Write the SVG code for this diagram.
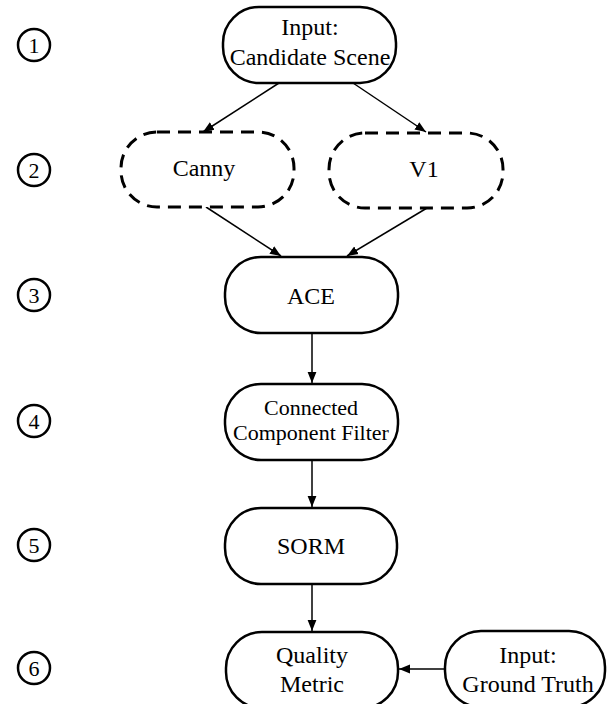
<svg xmlns="http://www.w3.org/2000/svg" width="608" height="704" viewBox="0 0 608 704">
<defs>
<marker id="ah" viewBox="0 0 10 10" refX="10" refY="5" markerWidth="11" markerHeight="11" markerUnits="userSpaceOnUse" orient="auto">
<path d="M0,1 L10,5 L0,9 Z" fill="#000"/>
</marker>
</defs>
<style>
.box{fill:#fff;stroke:#000;stroke-width:2.5}
.dash{fill:#fff;stroke:#000;stroke-width:3;stroke-dasharray:13 8}
.t{font-family:"Liberation Serif","Times New Roman",serif;font-size:24px;text-anchor:middle;fill:#000}
.s{font-size:22px}
.n{font-family:"Liberation Serif","Times New Roman",serif;font-size:22px;text-anchor:middle;fill:#000}
.c{fill:#fff;stroke:#000;stroke-width:2.5}
.e{stroke:#000;stroke-width:1.5;fill:none;marker-end:url(#ah)}
</style>
<rect width="608" height="704" fill="#fff"/>
<g id="steps">
<g id="step1"><circle class="c" cx="34" cy="45" r="16"/><text class="n" x="34" y="53">1</text></g>
<g id="step2"><circle class="c" cx="34" cy="170" r="16"/><text class="n" x="34" y="178">2</text></g>
<g id="step3"><circle class="c" cx="34" cy="295" r="16"/><text class="n" x="34" y="303">3</text></g>
<g id="step4"><circle class="c" cx="34" cy="421" r="16"/><text class="n" x="34" y="429">4</text></g>
<g id="step5"><circle class="c" cx="34" cy="545" r="16"/><text class="n" x="34" y="553">5</text></g>
<g id="step6"><circle class="c" cx="34" cy="668" r="16"/><text class="n" x="34" y="676">6</text></g>
</g>
<g id="connectors">
<line class="e" x1="279" y1="83" x2="203" y2="132"/>
<line class="e" x1="353" y1="83" x2="426" y2="132"/>
<line class="e" x1="206" y1="207" x2="281" y2="256"/>
<line class="e" x1="427" y1="208" x2="347" y2="256"/>
<line class="e" x1="312" y1="333" x2="312" y2="383"/>
<line class="e" x1="312" y1="460" x2="312" y2="507"/>
<line class="e" x1="312" y1="584" x2="312" y2="631"/>
<line class="e" x1="445" y1="669" x2="399" y2="669"/>
</g>
<g id="input-scene"><rect class="box" x="223" y="7" width="173" height="76" rx="36" ry="36"/><text class="t" x="310" y="35">Input:</text><text class="t" x="310" y="65">Candidate Scene</text></g>
<g id="canny"><rect class="dash" x="121" y="132" width="173" height="75" rx="36" ry="36"/><text class="t" x="204" y="176">Canny</text></g>
<g id="v1"><rect class="dash" x="329" y="133" width="174" height="75" rx="36" ry="36"/><text class="t" x="424" y="177">V1</text></g>
<g id="ace"><rect class="box" x="225" y="257" width="173" height="76" rx="36" ry="36"/><text class="t" x="311" y="304">ACE</text></g>
<g id="ccf"><rect class="box" x="225" y="384" width="173" height="76" rx="36" ry="36"/><text class="t s" x="311" y="415">Connected</text><text class="t s" x="311" y="440">Component Filter</text></g>
<g id="sorm"><rect class="box" x="225" y="508" width="172" height="76" rx="36" ry="36"/><text class="t" x="311" y="554">SORM</text></g>
<g id="quality"><rect class="box" x="226" y="632" width="172" height="76" rx="36" ry="36"/><text class="t" x="312" y="663">Quality</text><text class="t" x="312" y="692">Metric</text></g>
<g id="ground-truth"><rect class="box" x="445" y="631" width="160" height="76" rx="36" ry="36"/><text class="t" x="528" y="663">Input:</text><text class="t" x="528" y="692">Ground Truth</text></g>
</svg>
